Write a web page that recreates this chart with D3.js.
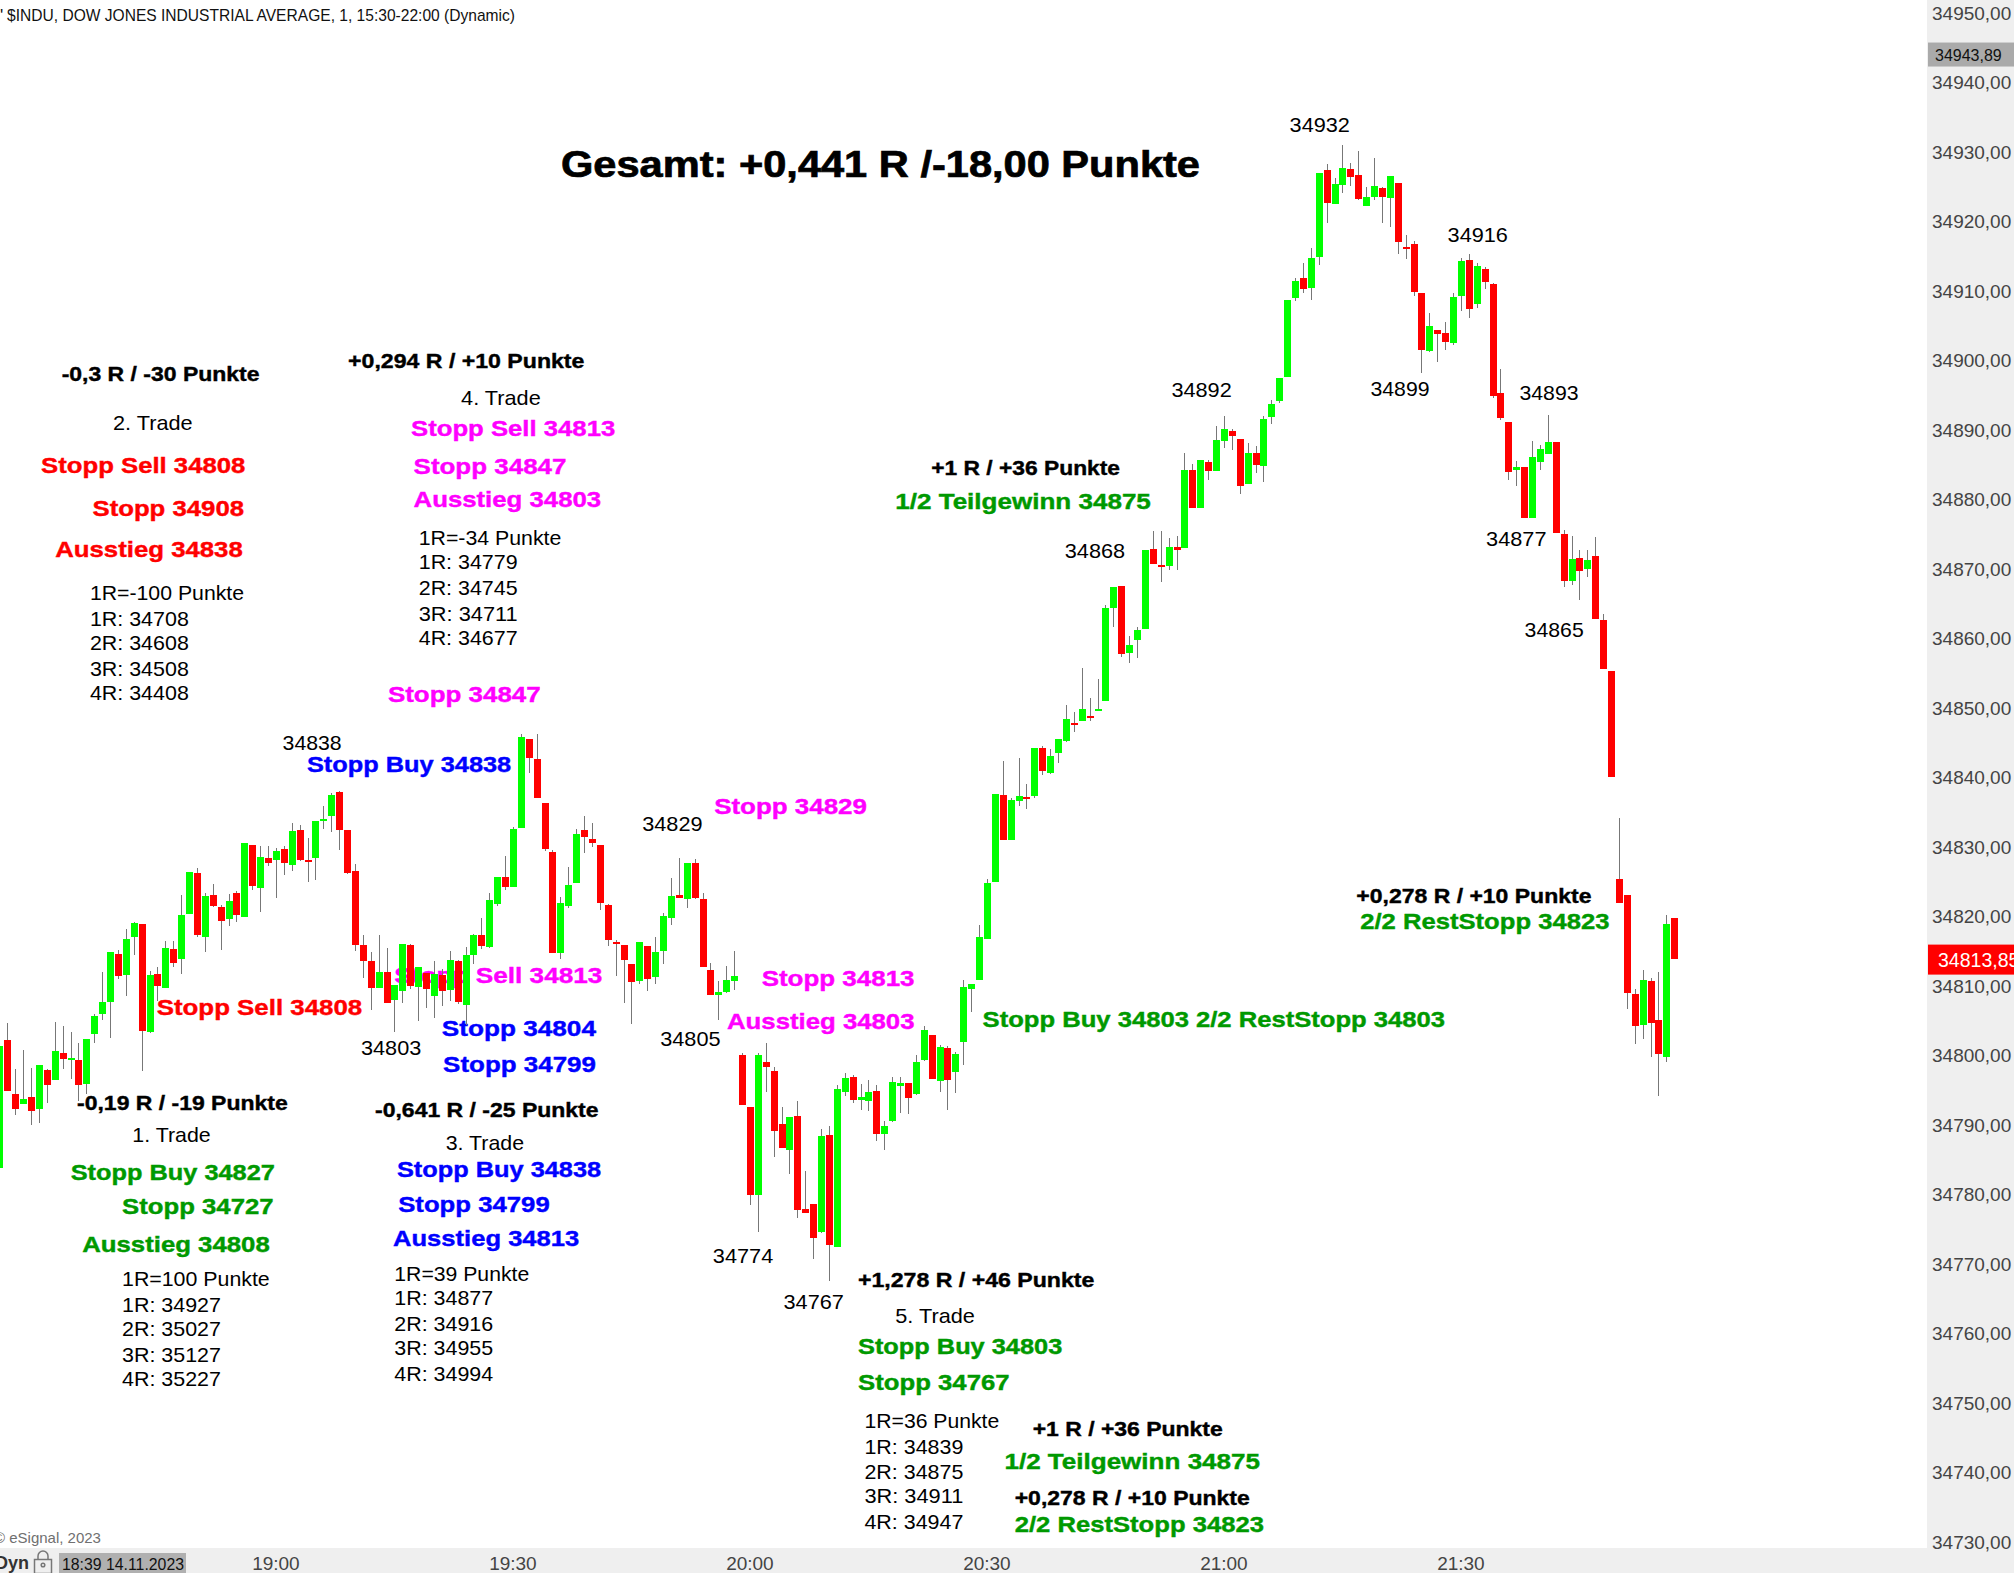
<!DOCTYPE html>
<html><head><meta charset="utf-8">
<script src="https://cdn.jsdelivr.net/npm/d3@7"></script>
<style>html,body{margin:0;padding:0;background:#fff;overflow:hidden}svg{display:block}text{font-family:"Liberation Sans",Arial,sans-serif}</style>
</head><body><svg id="c" width="2014" height="1573"></svg>
<script>
const openP=[34783.9,34802.3,34794.5,34793.1,34794.1,34792.4,34798.0,34796.6,34800.4,34799.4,
34799.4,34796.0,34803.2,34806.0,34807.8,34814.7,34811.6,34817.1,34819.0,34803.4,
34811.8,34809.8,34815.4,34813.9,34820.4,34826.3,34817.1,34823.1,34821.4,34819.7,
34823.4,34820.0,34830.3,34824.1,34828.4,34828.2,34829.7,34827.4,34832.5,34828.2,
34828.4,34833.8,34834.5,34837.9,34832.5,34826.6,34815.9,34813.6,34809.8,34812.1,
34808.0,34809.3,34815.9,34809.9,34811.9,34808.6,34811.6,34809.5,34813.6,34807.3,
34814.5,34817.4,34815.7,34821.8,34825.7,34824.3,34832.8,34845.6,34842.7,34836.4,
34829.3,34814.8,34821.5,34824.9,34832.4,34831.2,34830.3,34821.7,34816.4,34815.9,
34813.2,34810.8,34815.8,34811.3,34815.1,34819.8,34823.1,34822.6,34827.7,34822.6,
34812.3,34808.8,34809.2,34810.8,34800.1,34792.7,34780.0,34799.1,34797.8,34790.3,
34786.5,34791.4,34778.0,34778.7,34774.7,34788.6,34772.6,34794.8,34797.0,34793.7,
34793.5,34795.0,34788.8,34790.6,34795.7,34796.1,34794.5,34799.4,34803.0,34796.4,
34801.2,34797.7,34802.0,34809.6,34810.9,34816.8,34825.0,34837.5,34831.0,34836.6,
34837.2,34837.4,34844.3,34840.7,34843.6,34845.3,34847.8,34848.1,34848.8,34849.6,
34851.0,34864.3,34867.5,34857.9,34859.7,34861.4,34872.8,34870.5,34870.4,34873.2,
34873.0,34884.2,34878.8,34885.3,34884.1,34888.3,34889.8,34888.7,34882.2,34886.6,
34884.8,34891.8,34894.1,34897.6,34908.9,34911.8,34910.3,34914.8,34927.3,34922.4,
34925.1,34927.4,34926.6,34922.1,34923.4,34924.7,34923.3,34925.4,34916.2,34916.7,
34909.6,34901.3,34904.3,34903.9,34902.4,34909.2,34914.4,34908.0,34913.1,34910.9,
34895.3,34891.1,34884.2,34884.6,34877.3,34885.3,34886.5,34888.2,34875.0,34868.2,
34871.5,34869.9,34871.9,34862.6,34855.3,34825.5,34823.1,34808.9,34804.4,34810.8,
34805.2,34799.9,34819.8];
const highP=[34801.4,34804.7,34798.1,34800.9,34798.3,34798.7,34798.1,34804.9,34804.3,34803.4,
34801.9,34802.4,34806.1,34812.1,34814.9,34815.2,34818.3,34819.3,34819.0,34812.2,
34812.8,34816.5,34816.5,34823.1,34826.4,34827.0,34823.4,34824.7,34821.7,34823.3,
34823.7,34830.6,34830.3,34830.2,34830.2,34829.9,34830.2,34833.5,34833.2,34831.3,
34833.8,34835.9,34837.8,34838.1,34832.5,34827.6,34817.4,34814.9,34817.4,34815.5,
34810.2,34816.1,34816.1,34812.8,34811.9,34813.6,34812.5,34815.1,34813.8,34815.7,
34817.5,34819.8,34823.4,34825.7,34828.7,34832.9,34846.3,34845.6,34846.2,34836.4,
34829.6,34822.8,34827.2,34832.6,34834.5,34833.5,34830.3,34821.8,34816.6,34815.9,
34813.2,34816.4,34815.8,34817.1,34820.5,34825.6,34828.4,34827.8,34828.3,34823.4,
34813.3,34810.8,34812.9,34815.1,34800.4,34792.7,34800.4,34801.8,34798.4,34792.7,
34791.2,34793.5,34783.5,34778.8,34789.5,34789.9,34795.8,34797.6,34797.2,34796.0,
34796.6,34795.8,34790.7,34797.0,34797.0,34796.1,34800.1,34804.3,34803.0,34801.6,
34801.4,34800.6,34810.9,34810.4,34818.8,34825.5,34837.6,34842.4,34837.0,34842.8,
34839.1,34844.3,34844.5,34844.1,34845.5,34850.4,34849.4,34855.8,34851.4,34854.2,
34864.8,34867.4,34867.5,34860.3,34861.6,34872.7,34875.5,34875.5,34874.4,34874.7,
34886.6,34885.0,34885.6,34885.6,34890.5,34892.0,34890.1,34888.7,34888.1,34887.6,
34892.0,34894.3,34897.4,34908.6,34911.8,34913.9,34916.1,34926.9,34928.2,34926.1,
34930.9,34928.3,34930.0,34924.9,34929.0,34924.9,34926.4,34925.4,34918.0,34917.1,
34909.6,34906.8,34904.3,34905.5,34909.6,34914.7,34915.2,34913.9,34913.4,34911.1,
34898.7,34891.1,34885.5,34884.6,34888.4,34887.8,34892.1,34888.2,34875.6,34874.7,
34872.7,34872.7,34874.6,34863.5,34855.3,34834.2,34823.1,34809.6,34812.4,34811.2,
34812.0,34820.3,34819.8];
const lowP=[34783.9,34795.0,34791.5,34793.1,34790.1,34790.4,34793.2,34796.6,34798.1,34796.7,
34793.5,34794.5,34801.9,34805.2,34802.6,34811.1,34808.6,34814.5,34797.8,34803.3,
34807.9,34809.8,34812.8,34811.8,34820.4,34817.1,34814.9,34821.4,34815.2,34818.7,
34819.3,34820.0,34823.9,34820.7,34827.3,34822.7,34826.0,34826.6,34828.0,34825.0,
34825.3,34832.6,34832.2,34829.6,34826.1,34815.1,34811.2,34806.6,34809.8,34807.6,
34803.4,34807.6,34809.6,34805.0,34806.9,34805.5,34807.2,34807.9,34807.5,34804.5,
34813.2,34815.4,34815.5,34821.6,34823.8,34824.3,34832.7,34840.6,34837.0,34829.4,
34814.8,34814.0,34821.3,34824.9,34829.2,34830.0,34821.0,34815.8,34811.5,34807.6,
34804.6,34810.4,34809.4,34810.4,34813.2,34818.8,34822.7,34821.3,34822.6,34812.8,
34808.8,34805.2,34809.0,34809.5,34793.0,34778.6,34774.7,34794.8,34785.5,34786.8,
34783.0,34776.7,34777.5,34770.8,34774.6,34767.7,34772.6,34794.3,34793.3,34792.2,
34792.1,34787.8,34786.5,34790.5,34791.8,34791.7,34794.4,34799.3,34796.7,34794.8,
34792.2,34794.7,34798.7,34806.3,34810.9,34816.8,34825.0,34831.0,34831.0,34835.9,
34835.5,34837.0,34840.4,34840.5,34842.1,34845.1,34846.5,34848.1,34848.1,34849.6,
34851.0,34861.6,34857.3,34856.5,34857.2,34861.4,34870.7,34868.1,34869.8,34869.8,
34873.0,34878.8,34878.7,34882.7,34884.1,34887.4,34887.1,34880.8,34882.2,34883.7,
34882.5,34890.8,34893.8,34897.6,34908.5,34909.6,34908.6,34913.7,34919.7,34922.4,
34924.0,34925.0,34923.0,34922.1,34923.0,34919.7,34919.1,34915.2,34914.5,34909.2,
34898.1,34901.1,34899.7,34901.4,34902.2,34907.0,34906.0,34907.5,34910.2,34894.5,
34891.4,34882.8,34881.9,34877.3,34877.3,34884.2,34886.5,34875.1,34867.4,34867.7,
34865.5,34868.8,34862.8,34855.6,34840.1,34822.0,34806.7,34801.7,34802.5,34799.9,
34794.3,34799.2,34813.9];
const closeP=[34801.4,34795.0,34792.4,34793.8,34792.1,34798.7,34795.8,34800.7,34799.6,34799.7,
34795.8,34802.4,34805.7,34807.8,34814.9,34811.5,34816.8,34819.1,34803.6,34811.6,
34810.1,34815.5,34813.4,34820.3,34826.4,34817.4,34823.0,34821.6,34819.4,34822.3,
34820.3,34830.6,34824.4,34828.6,34827.7,34829.5,34827.7,34832.3,34828.2,34827.9,
34833.8,34834.1,34837.5,34832.5,34826.3,34815.9,34813.6,34809.8,34812.1,34807.6,
34810.2,34816.1,34810.1,34812.8,34809.6,34811.8,34809.3,34813.8,34807.8,34814.5,
34817.4,34815.8,34822.4,34825.7,34824.3,34832.6,34845.8,34842.8,34837.0,34829.7,
34814.8,34822.0,34824.6,34831.9,34831.5,34830.6,34822.0,34816.6,34816.2,34813.8,
34810.6,34816.4,34811.1,34814.9,34820.1,34823.0,34822.7,34827.8,34822.7,34812.8,
34808.8,34809.2,34810.9,34811.5,34793.0,34780.0,34800.1,34798.4,34789.2,34786.8,
34791.2,34777.9,34777.5,34773.9,34788.5,34772.9,34795.3,34796.8,34793.7,34794.1,
34794.8,34788.8,34789.9,34796.3,34796.1,34794.0,34799.1,34803.7,34796.7,34801.3,
34796.6,34800.3,34809.9,34810.4,34817.1,34824.9,34837.6,34831.0,34836.8,34837.4,
34837.0,34844.3,34840.9,34843.1,34845.5,34848.4,34847.6,34849.9,34848.6,34849.9,
34864.3,34867.4,34857.7,34859.1,34861.2,34872.7,34870.7,34870.3,34873.2,34872.7,
34884.2,34878.8,34885.6,34884.1,34888.5,34890.1,34889.1,34881.9,34886.6,34884.9,
34891.5,34893.7,34897.4,34908.6,34911.4,34910.2,34914.7,34926.9,34922.6,34925.3,
34927.6,34926.3,34923.1,34923.4,34925.0,34923.4,34926.4,34917.0,34915.9,34909.8,
34901.4,34904.9,34903.7,34902.6,34909.1,34914.2,34907.3,34913.5,34911.2,34894.8,
34891.7,34883.9,34884.6,34877.3,34886.1,34887.2,34888.2,34875.1,34868.2,34871.4,
34869.7,34871.3,34862.8,34855.6,34840.1,34822.0,34809.1,34804.3,34810.9,34804.8,
34800.3,34819.0,34813.9];
const priceTicks=d3.range(34730,34951,10);
const timeTicks=[[35,"19:00"],[65,"19:30"],[95,"20:00"],[125,"20:30"],[155,"21:00"],[185,"21:30"]];
const lastPrice=34813.85, crossPrice=34943.89;

const headerText="$INDU, DOW JONES INDUSTRIAL AVERAGE, 1, 15:30-22:00 (Dynamic)";
const titleText="Gesamt: +0,441 R /-18,00 Punkte";
// label: text, style, left, right, centre line (in the layout grid of the reduced picture)
const labels=[
["-0,3 R / -30 Punkte","k",48,202,292],["2. Trade","n",88,150,330],["Stopp Sell 34808","r",32,191,363],["Stopp 34908","r",72,190,396],["Ausstieg 34838","r",43,189,428],
["1R=-100 Punkte","n",70,190,462],["1R: 34708","n",70,147,482],["2R: 34608","n",70,147,501],["3R: 34508","n",70,147,521],["4R: 34408","n",70,147,540],
["+0,294 R / +10 Punkte","k",271,455,282],["4. Trade","n",359,421,310],["Stopp Sell 34813","m",320,479,334],["Stopp 34847","m",322,441,364],["Ausstieg 34803","m",322,468,389],
["1R=-34 Punkte","n",326,437,419],["1R: 34779","n",326,403,438],["2R: 34745","n",326,403,458],["3R: 34711","n",326,403,478],["4R: 34677","n",326,403,497],
["Stopp 34847","m",302,421,541],["34838","n",220,266,579],["Stopp Buy 34838","b",239,398,596],["Stopp 34829","m",556,675,628],["34829","n",500,547,642],
["Stopp Sell 34808","r",122,282,785],["Stopp Sell 34813","m",307,469,760],["Stopp 34804","b",344,464,801],["Stopp 34799","b",345,464,829],["34803","n",281,328,816],["34805","n",514,561,809],
["Stopp 34813","m",593,712,762],["Ausstieg 34803","m",566,712,796],["Stopp Buy 34803 2/2 RestStopp 34803","g",765,1125,794],
["-0,19 R / -19 Punkte","k",60,224,859],["1. Trade","n",103,164,884],["Stopp Buy 34827","g",55,214,913],["Stopp 34727","g",95,213,940],["Ausstieg 34808","g",64,210,969],
["1R=100 Punkte","n",95,210,996],["1R: 34927","n",95,172,1016],["2R: 35027","n",95,172,1035],["3R: 35127","n",95,172,1055],["4R: 35227","n",95,172,1074],
["-0,641 R / -25 Punkte","k",292,466,865],["3. Trade","n",347,408,890],["Stopp Buy 34838","b",309,468,911],["Stopp 34799","b",310,428,938],["Ausstieg 34813","b",306,451,965],
["1R=39 Punkte","n",307,412,992],["1R: 34877","n",307,384,1011],["2R: 34916","n",307,384,1031],["3R: 34955","n",307,384,1050],["4R: 34994","n",307,384,1070],
["34774","n",555,602,978],["34767","n",610,657,1014],["+1,278 R / +46 Punkte","k",668,852,997],["5. Trade","n",697,759,1025],["Stopp Buy 34803","g",668,827,1049],["Stopp 34767","g",668,786,1077],
["1R=36 Punkte","n",673,778,1107],["1R: 34839","n",673,750,1127],["2R: 34875","n",673,750,1146],["3R: 34911","n",673,750,1165],["4R: 34947","n",673,750,1185],
["+1 R / +36 Punkte","k",804,952,1113],["1/2 Teilgewinn 34875","g",782,981,1138],["+0,278 R / +10 Punkte","k",790,973,1167],["2/2 RestStopp 34823","g",790,984,1187],
["+1 R / +36 Punkte","k",725,872,365],["1/2 Teilgewinn 34875","g",697,896,391],["34892","n",912,959,304],["34868","n",829,876,429],["34932","n",1004,1051,98],
["34916","n",1127,1174,183],["34899","n",1067,1113,303],["34893","n",1183,1229,306],["34877","n",1157,1204,420],["34865","n",1187,1233,491],
["+0,278 R / +10 Punkte","k",1056,1239,698],["2/2 RestStopp 34823","g",1059,1253,718]];
const labelStyle={
 n:{fill:"#000",weight:400,size:21,stroke:0},k:{fill:"#000",weight:700,size:20,stroke:0.4},
 r:{fill:"#ff0000",weight:700,size:22,stroke:0.4},m:{fill:"#ff00ff",weight:700,size:22,stroke:0.4},
 b:{fill:"#0000ff",weight:700,size:22,stroke:0.4},g:{fill:"#009900",weight:700,size:22,stroke:0.4}};

const W=2014,H=1573,S=W/1568,plotR=1927,plotB=1548;
const svg=d3.select("#c");
const x=d3.scaleLinear().domain([0,212]).range([-0.1,1674.7]);
const y=d3.scaleLinear().domain([34800,34950]).range([1056,12]);
const candles=openP.map((o,i)=>({i,o,h:highP[i],l:lowP[i],c:closeP[i]}));

svg.append("rect").attr("width",W).attr("height",H).attr("fill","#fff");

// annotations sit beneath the candles
const lab=svg.append("g");
labels.forEach(([t,k,a,b,m])=>{const s=labelStyle[k];
 lab.append("text").text(t).attr("x",a*S).attr("y",m*S+s.size*0.36-1)
  .attr("textLength",(b-a)*S).attr("lengthAdjust","spacingAndGlyphs")
  .attr("fill",s.fill).attr("stroke",s.fill).attr("stroke-width",s.stroke).attr("font-weight",s.weight).attr("font-size",s.size);});
lab.append("text").text(titleText).attr("x",561).attr("y",177).attr("textLength",639).attr("lengthAdjust","spacingAndGlyphs")
 .attr("font-weight",700).attr("font-size",36).attr("fill","#000").attr("stroke","#000").attr("stroke-width",0.7);

// candles
const cg=svg.append("g").attr("shape-rendering","crispEdges");
const px=d=>Math.floor(x(d.i));
cg.selectAll(".w").data(candles).join("rect").attr("class","w")
 .attr("x",px).attr("width",1).attr("y",d=>Math.round(y(d.h))).attr("height",d=>Math.max(1,Math.round(y(d.l))-Math.round(y(d.h)))).attr("fill","#777");
cg.selectAll(".b").data(candles).join("rect").attr("class","b")
 .attr("x",d=>px(d)-3).attr("width",7)
 .attr("y",d=>Math.round(y(Math.max(d.o,d.c))))
 .attr("height",d=>Math.max(2,Math.round(y(Math.min(d.o,d.c)))-Math.round(y(Math.max(d.o,d.c)))))
 .attr("fill",d=>d.c>=d.o?"#00ff00":"#ff0000");

// header + copyright
svg.append("text").text("'").attr("x",0).attr("y",21).attr("font-size",17).attr("fill","#111");
svg.append("text").text(headerText).attr("x",7).attr("y",21).attr("textLength",508).attr("lengthAdjust","spacingAndGlyphs").attr("font-size",17).attr("fill","#111");
svg.append("text").text("© eSignal, 2023").attr("x",-6).attr("y",1543).attr("font-size",15).attr("fill","#707070");

// panels
svg.append("rect").attr("x",0).attr("y",plotB).attr("width",W).attr("height",H-plotB).attr("fill","#efefef");
svg.append("rect").attr("x",plotR).attr("y",0).attr("width",W-plotR).attr("height",H).attr("fill","#efefef");

// right price axis
const ya=d3.axisRight(y).tickValues(priceTicks).tickSize(0).tickPadding(0).tickFormat(v=>v+",00");
const yg=svg.append("g").attr("transform",`translate(1932,0)`).call(ya);
yg.select(".domain").remove();
yg.selectAll("text").attr("font-size",19).attr("fill","#444").style("font-family",'"Liberation Sans"').attr("dy","0.35em").attr("x",0)
 .attr("y",v=>-0.8+(v-34800)*0.01);

// bottom time axis
const xa=d3.axisBottom(x).tickValues(timeTicks.map(d=>d[0])).tickSize(0).tickPadding(0).tickFormat(v=>timeTicks.find(d=>d[0]===v)[1]);
const xg=svg.append("g").attr("transform",`translate(-1,${plotB})`).call(xa);
xg.select(".domain").remove();
xg.selectAll("text").attr("font-size",19).attr("fill","#444").style("font-family",'"Liberation Sans"').attr("y",22).attr("dy",0);

// price flags
svg.append("rect").attr("x",1928).attr("y",y(crossPrice)-12).attr("width",W-1928).attr("height",24).attr("fill","#aaaaaa");
svg.append("text").text(String(crossPrice).replace(".",",")).attr("x",1935).attr("y",y(crossPrice)+6).attr("font-size",16).attr("fill","#111");
svg.append("rect").attr("x",1928).attr("y",y(lastPrice)-15).attr("width",W-1928).attr("height",30).attr("fill","#ff0000");
svg.append("text").text(String(lastPrice).replace(".",",")).attr("x",1938).attr("y",y(lastPrice)+7).attr("font-size",19.5).attr("fill","#fff");

// bottom-left status
svg.append("text").text("Dyn").attr("x",-5).attr("y",1569).attr("font-size",18).attr("font-weight",700).attr("fill","#333");
const lk=svg.append("g").attr("fill","none").attr("stroke","#777").attr("stroke-width",1.5);
lk.append("rect").attr("x",34.5).attr("y",1559.5).attr("width",17).attr("height",14);
lk.append("path").attr("d","M38 1559v-3a5 5 0 0 1 10 0v3");
lk.append("circle").attr("cx",43).attr("cy",1565).attr("r",1.8);
svg.append("rect").attr("x",59).attr("y",1553).attr("width",127).attr("height",20).attr("fill","#b0b0b0");
svg.append("text").text("18:39 14.11.2023").attr("x",62).attr("y",1570).attr("textLength",122).attr("lengthAdjust","spacingAndGlyphs").attr("font-size",16).attr("fill","#111");
</script></body></html>
